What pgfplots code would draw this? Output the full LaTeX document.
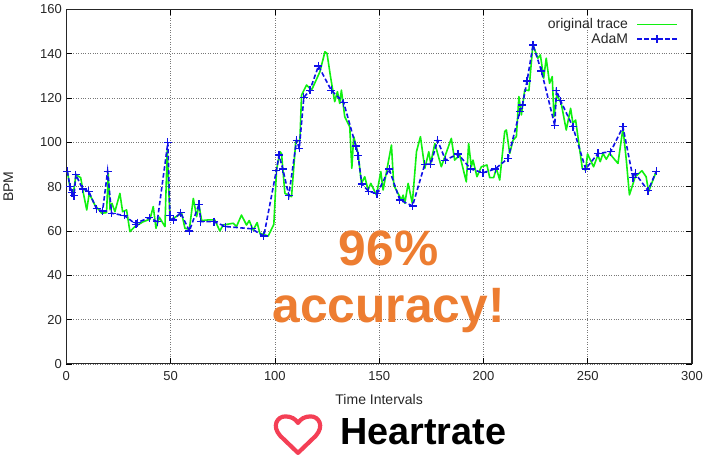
\documentclass[border=0pt]{standalone}
\usepackage{fontspec}
\setmainfont{Liberation Sans}
\usepackage{pgfplots}
\pgfplotsset{compat=1.18}
\definecolor{gridgray}{HTML}{777777}
\definecolor{tracegreen}{HTML}{10F010}
\definecolor{ad}{HTML}{1010E8}
\definecolor{org}{HTML}{ED7D31}
\definecolor{hrt}{HTML}{F43F55}
\begin{document}
\begin{tikzpicture}[x=1pt,y=1pt]
\path[use as bounding box] (-66.3,-112.1) rectangle (643.7,363.9);
\begin{axis}[
  at={(0,0)},anchor=south west,
  scale only axis,width=625.7pt,height=354.4pt,
  xmin=0,xmax=300,ymin=0,ymax=160,
  xtick={0,50,...,300},ytick={0,20,...,160},
  tick align=inside,major tick length=6pt,
  tick style={black,line width=0.7pt},
  axis line style={line width=1.2pt,black!85},
  grid=major,
  grid style={dotted,gridgray,line width=0.7pt},
  ticklabel style={font=\fontsize{13}{15}\selectfont,text=black!85},
  xticklabel style={yshift=-3.5pt},
  yticklabel style={xshift=-1pt},
  /pgf/number format/assume math mode=true,
  xlabel={Time Intervals},ylabel={BPM},
  label style={font=\fontsize{14}{16}\selectfont,text=black!85},
  xlabel style={at={(axis description cs:0.5,0)},anchor=center,yshift=-35.5pt},
  ylabel style={at={(axis description cs:0,0.5)},anchor=center,rotate=0,xshift=0pt,yshift=58pt},
  legend style={draw=none,fill=none,at={(1,1)},anchor=north east,xshift=-12pt,yshift=-5pt,
    font=\fontsize{14}{15}\selectfont,text=black!85,row sep=-1pt,inner sep=2pt},
  legend cell align=right,
  legend plot pos=right,
  legend image code/.code={\path[draw=none,fill=none] (-7pt,0pt) -- (0pt,0pt);\draw[mark repeat=2,mark phase=2,#1] plot coordinates {(0pt,0pt)(20pt,0pt)(40pt,0pt)};},
]
\addplot[tracegreen,line width=1.6pt,line join=round,no marks,
  legend image code/.code={\path[draw=none,fill=none] (-7pt,0pt) -- (0pt,0pt);\fill[tracegreen,draw=none] (0pt,-0.55pt) rectangle (40pt,0.55pt);}] coordinates {
(0.5,87.1)(1.8,79.3)(3.4,77)(4.6,85.3)(6.9,84.1)(8.2,77)(9.8,69.5)(11,77)(13.7,71.7)(17,68)(19.3,68.3)(20.1,86)(21,69.5)(21.9,72.5)(23.3,68.7)(25.7,77)(27,68.7)(28.9,69.5)(30.5,59.7)(32.9,62)(36.9,64.2)(40.1,65.3)(41.7,71)(43,61.2)(44.6,66.2)(47.3,62)(48.4,96.6)(49.7,65)(51.3,65.7)(55.3,68)(56.9,61.2)(59,60.8)(60.9,74.7)(62.5,66.5)(63.6,71.7)(64.9,64.7)(68,65)(71.2,65)(73.6,60)(75.2,62.7)(80,63.5)(81.6,62)(84,67.2)(86.4,62.7)(87.7,64.7)(89.6,60.4)(91.5,63.8)(92.8,59)(96.8,57.7)(99.5,63)(100.8,87.5)(102.4,95.8)(103.2,95)(104.8,77)(108,75.5)(110,100.3)(112,101)(112.8,121.4)(115.2,125.9)(117.6,123.6)(121.6,131.9)(124,140.9)(125,140.2)(126.7,129.6)(128.7,118.4)(130,122.9)(131.1,117.6)(131.9,123.6)(133.5,111.6)(135.9,107)(136.9,88.3)(137.8,102.6)(139.9,95)(141.5,81.5)(143.1,84.5)(144.7,78.5)(146,81.5)(148.7,76.2)(150.8,86.8)(151.9,78.5)(155.9,98.8)(157,80.7)(160.7,74)(161.5,76.2)(162.3,72.5)(163.9,81.5)(165.9,72.5)(167.9,95.8)(169.8,102.6)(171.9,88.3)(173.8,95.8)(174.7,90.5)(176.7,99.5)(179.8,89)(184.6,101.8)(186.2,92)(188.6,94.3)(191.8,82.2)(192.9,99.5)(194.2,89)(195,92)(196.9,84.5)(199,89)(201.7,89.8)(203,84.1)(204.9,84.1)(206.2,88.3)(207.8,83)(210.2,104.9)(211,105.6)(212.6,95)(214.2,101)(215.8,102.6)(217,120.7)(218.2,112.4)(219.8,123.7)(221.8,123.4)(223.7,144)(226.1,138)(227.3,139.5)(228.9,129)(230.1,138)(231.7,126.7)(233,129.7)(233.8,111.6)(235.2,121.4)(237.3,117.6)(239.7,105.6)(241.8,115.4)(242.9,108.6)(244.2,110.1)(247.4,88.3)(249,87.5)(249.9,94.8)(252.8,89)(254.9,94.3)(256,91.3)(257.3,95)(258.9,92.4)(260.5,95)(264.5,90.5)(266.9,106.4)(268.5,92)(270,76.3)(272.8,84.5)(276,87.2)(278,84.5)(279.2,77.8)(282.9,87)
};
\addlegendentry{original trace}
\addplot[ad,line width=1.6pt,dash pattern=on 4.5pt off 2.5pt,mark=+,mark size=4pt,mark options={solid,draw=ad,line width=1.2pt}] coordinates {
(0.5,87)(1.8,80)(2.7,77.3)(3.7,76)(4.6,85.4)(7.8,79)(10.7,78)(14.5,70)(17.4,69)(19.8,87)(21.7,68)(27.8,67)(33.4,63)(34,63.8)(39.8,66)(43.6,64.2)(48.7,100)(49.7,67)(51.3,65)(54.8,68.3)(59,60)(63.6,72)(64.5,64.2)(70.8,64.2)(76.5,62)(88.8,61)(94.7,57.7)(100.7,87.2)(102,94.3)(103.8,88)(106.7,76)(110.4,101)(111.7,97.3)(113.9,120.3)(116.8,123.6)(120.9,134.5)(127,123.6)(133,118)(138.8,98.4)(139.9,94)(141.7,81.2)(144.9,78)(149,76.8)(154.8,88)(159.9,74)(166,71.3)(171.9,90.2)(174.8,90.2)(178,101)(181.8,92)(187.8,94.8)(193.9,88)(199.8,86.3)(205.6,88)(211.8,92.8)(217.4,113.9)(218.7,116.9)(220.9,127.7)(223.8,144)(227.8,132.2)(234.2,107.7)(235,123.3)(237,118.8)(242.9,107)(249,88)(254.9,95)(261,95.8)(266.9,107)(271.7,84)(272.8,86)(278.9,78.2)(282.9,87)
};
\addlegendentry{AdaM}
\end{axis}
% overlay texts: image px (X,Y) -> (X-66.3, 363.9-Y)
\node[text=org,font=\bfseries\fontsize{49.7}{50}\selectfont,anchor=center] at (322.2,115.5) {96\%};
\node[text=org,font=\bfseries\fontsize{49.7}{50}\selectfont,anchor=center] at (322.4,53.5) {accuracy!};
\node[text=black,font=\bfseries\fontsize{37.8}{38}\selectfont,anchor=center] at (357,-67.5) {Heartrate};
\draw[hrt,line width=4.2pt,line join=round]
  (231.7,-89) -- (214,-72)
  .. controls (205,-62) and (211,-52.5) .. (219,-52.5)
  .. controls (225,-52.5) and (229,-55) .. (231.7,-59)
  .. controls (234.4,-55) and (238.4,-52.5) .. (244.4,-52.5)
  .. controls (252.4,-52.5) and (258.4,-62) .. (249.4,-72) -- cycle;
\end{tikzpicture}
\end{document}
